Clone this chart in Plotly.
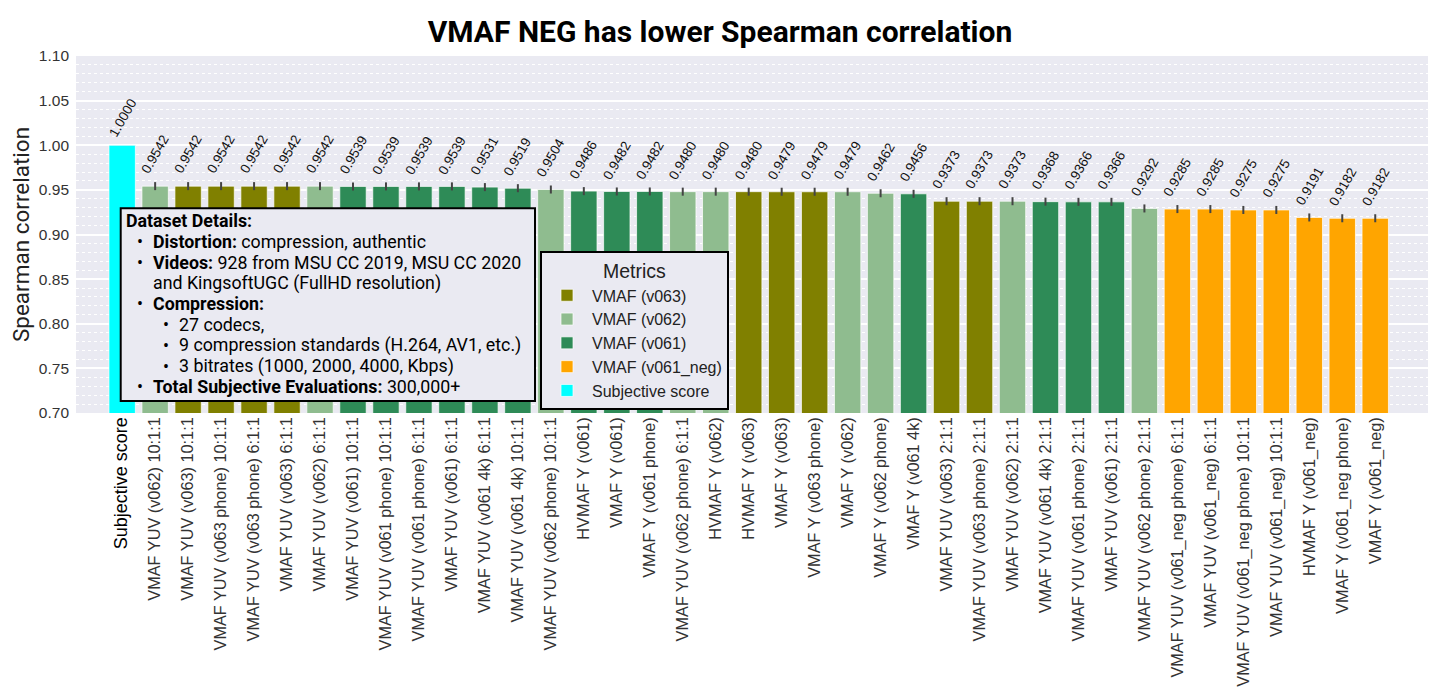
import plotly.graph_objects as go

categories = [
    "Subjective score",
    "VMAF YUV (v062) 10:1:1",
    "VMAF YUV (v063) 10:1:1",
    "VMAF YUV (v063 phone) 10:1:1",
    "VMAF YUV (v063 phone) 6:1:1",
    "VMAF YUV (v063) 6:1:1",
    "VMAF YUV (v062) 6:1:1",
    "VMAF YUV (v061) 10:1:1",
    "VMAF YUV (v061 phone) 10:1:1",
    "VMAF YUV (v061 phone) 6:1:1",
    "VMAF YUV (v061) 6:1:1",
    "VMAF YUV (v061 4k) 6:1:1",
    "VMAF YUV (v061 4k) 10:1:1",
    "VMAF YUV (v062 phone) 10:1:1",
    "HVMAF Y (v061)",
    "VMAF Y (v061)",
    "VMAF Y (v061 phone)",
    "VMAF YUV (v062 phone) 6:1:1",
    "HVMAF Y (v062)",
    "HVMAF Y (v063)",
    "VMAF Y (v063)",
    "VMAF Y (v063 phone)",
    "VMAF Y (v062)",
    "VMAF Y (v062 phone)",
    "VMAF Y (v061 4k)",
    "VMAF YUV (v063) 2:1:1",
    "VMAF YUV (v063 phone) 2:1:1",
    "VMAF YUV (v062) 2:1:1",
    "VMAF YUV (v061 4k) 2:1:1",
    "VMAF YUV (v061 phone) 2:1:1",
    "VMAF YUV (v061) 2:1:1",
    "VMAF YUV (v062 phone) 2:1:1",
    "VMAF YUV (v061_neg phone) 6:1:1",
    "VMAF YUV (v061_neg) 6:1:1",
    "VMAF YUV (v061_neg phone) 10:1:1",
    "VMAF YUV (v061_neg) 10:1:1",
    "HVMAF Y (v061_neg)",
    "VMAF Y (v061_neg phone)",
    "VMAF Y (v061_neg)",
]

values = [
    1.0000, 0.9542, 0.9542, 0.9542, 0.9542, 0.9542, 0.9542,
    0.9539, 0.9539, 0.9539, 0.9539, 0.9531, 0.9519, 0.9504,
    0.9486, 0.9482, 0.9482, 0.9480, 0.9480, 0.9480, 0.9479,
    0.9479, 0.9479, 0.9462, 0.9456, 0.9373, 0.9373, 0.9373,
    0.9368, 0.9366, 0.9366, 0.9292, 0.9285, 0.9285, 0.9275,
    0.9275, 0.9191, 0.9182, 0.9182,
]

groups = [
    "Subjective score",
    "VMAF (v062)", "VMAF (v063)", "VMAF (v063)", "VMAF (v063)", "VMAF (v063)", "VMAF (v062)",
    "VMAF (v061)", "VMAF (v061)", "VMAF (v061)", "VMAF (v061)", "VMAF (v061)", "VMAF (v061)",
    "VMAF (v062)",
    "VMAF (v061)", "VMAF (v061)", "VMAF (v061)",
    "VMAF (v062)", "VMAF (v062)", "VMAF (v063)", "VMAF (v063)", "VMAF (v063)",
    "VMAF (v062)", "VMAF (v062)", "VMAF (v061)",
    "VMAF (v063)", "VMAF (v063)", "VMAF (v062)",
    "VMAF (v061)", "VMAF (v061)", "VMAF (v061)",
    "VMAF (v062)",
    "VMAF (v061_neg)", "VMAF (v061_neg)", "VMAF (v061_neg)", "VMAF (v061_neg)",
    "VMAF (v061_neg)", "VMAF (v061_neg)", "VMAF (v061_neg)",
]

errors = [0.0] + [0.0045] * (len(values) - 1)

legend_order = ["VMAF (v063)", "VMAF (v062)", "VMAF (v061)", "VMAF (v061_neg)", "Subjective score"]
group_colors = {
    "VMAF (v063)": "#808000",
    "VMAF (v062)": "#8FBC8F",
    "VMAF (v061)": "#2E8B57",
    "VMAF (v061_neg)": "#FFA500",
    "Subjective score": "#00FFFF",
}

# Dataset details box: (indent level, bold head, rest)
detail_lines = [
    (0, "Dataset Details:", ""),
    (1, "Distortion:", " compression, authentic"),
    (1, "Videos:", " 928 from MSU CC 2019, MSU CC 2020"),
    (-1, "", "and KingsoftUGC (FullHD resolution)"),
    (1, "Compression:", ""),
    (2, "", "27 codecs,"),
    (2, "", "9 compression standards (H.264, AV1, etc.)"),
    (2, "", "3 bitrates (1000, 2000, 4000, Kbps)"),
    (1, "Total Subjective Evaluations:", " 300,000+"),
]

BG = "#EAEAF2"
FIG_W, FIG_H = 1432, 689
PLOT_L, PLOT_R, PLOT_T, PLOT_B = 76, 1428, 56, 413   # page pixels
OFF = 8  # page body margin


def px_x(px):
    return (px - PLOT_L) / (PLOT_R - PLOT_L)


def px_y(py):
    return (PLOT_B - py) / (PLOT_B - PLOT_T)


fig = go.Figure()

for g in legend_order:
    idx = [i for i, gg in enumerate(groups) if gg == g]
    fig.add_trace(go.Bar(
        x=[categories[i] for i in idx],
        y=[values[i] for i in idx],
        name=g,
        marker=dict(color=group_colors[g], line=dict(color="rgba(255,255,255,0.7)", width=1)),
        error_y=dict(type="data", array=[errors[i] for i in idx], visible=True,
                     color="#444444", thickness=2, width=0),
        showlegend=True,
    ))

annotations = []
for c, v, e in zip(categories, values, errors):
    annotations.append(dict(
        x=c, y=v + e, xref="x", yref="y",
        text=f"{v:.4f}", textangle=-60, showarrow=False,
        xanchor="center", yanchor="bottom", yshift=3,
        font=dict(family="Arial, Liberation Sans", size=13.5, color="#111111"),
    ))

# details box lines
line_y0, line_dy = 220.5, 20.8
x_head, x_b1, x_t1, x_b2, x_t2 = 124, 135, 151, 161, 177
dfont = dict(family="Roboto", size=17.8, color="black")
for k, (lvl, head, rest) in enumerate(detail_lines):
    py = line_y0 + k * line_dy
    if lvl == 0:
        tx, bx = x_head, None
    elif lvl == 1:
        tx, bx = x_t1, x_b1
    elif lvl == 2:
        tx, bx = x_t2, x_b2
    else:
        tx, bx = x_t1, None
    if bx is not None:
        annotations.append(dict(x=px_x(bx), y=px_y(py), xref="paper", yref="paper",
                                xanchor="left", yanchor="middle", showarrow=False,
                                text="•", font=dfont))
    txt = (f"<b>{head}</b>" if head else "") + rest
    annotations.append(dict(x=px_x(tx), y=px_y(py), xref="paper", yref="paper",
                            xanchor="left", yanchor="middle", showarrow=False,
                            text=txt, font=dfont, align="left"))

shapes = [dict(
    type="rect", xref="paper", yref="paper",
    x0=px_x(120.7), x1=px_x(535), y0=px_y(401), y1=px_y(208.3),
    fillcolor=BG, line=dict(color="black", width=2), layer="above",
)]

ticktext = ["<span style='font-size:18px;color:black'>Subjective score</span>"] + categories[1:]

fig.update_layout(
    width=FIG_W, height=FIG_H,
    barmode="overlay",
    paper_bgcolor="white", plot_bgcolor=BG,
    margin=dict(l=PLOT_L - OFF, r=FIG_W + OFF - PLOT_R, t=PLOT_T - OFF, b=FIG_H + OFF - PLOT_B,
                autoexpand=False),
    title=dict(text="<b>VMAF NEG has lower Spearman correlation</b>",
               x=(720 - OFF) / FIG_W, xanchor="center", y=1 - (31 - OFF) / FIG_H, yanchor="middle",
               font=dict(family="Roboto", size=30, color="black")),
    annotations=annotations,
    shapes=shapes,
    legend=dict(
        title=dict(text="Metrics", side="top center",
                   font=dict(family="Arial, Liberation Sans", size=19.5, color="#222")),
        x=px_x(540), y=px_y(251), xanchor="left", yanchor="top",
        bgcolor=BG, bordercolor="black", borderwidth=2,
        font=dict(family="Arial, Liberation Sans", size=16, color="#222"),
        itemwidth=40, traceorder="normal",
    ),
    xaxis=dict(
        categoryorder="array", categoryarray=categories,
        tickmode="array", tickvals=categories, ticktext=ticktext,
        tickangle=-90, range=[-1.4, 39.6],
        tickfont=dict(family="Arial, Liberation Sans", size=16.3, color="#333"),
        showgrid=False, zeroline=False, showline=False, ticks="",
    ),
    yaxis=dict(
        range=[0.70, 1.10], dtick=0.05, tickformat=".2f",
        tickfont=dict(family="Arial, Liberation Sans", size=15.5, color="#333"),
        gridcolor="white", gridwidth=1.5, zeroline=False, showline=False, ticks="",
        ticklabelstandoff=6,
        minor=dict(dtick=0.01, showgrid=True, gridcolor="white", gridwidth=0.8, griddash="dot"),
        title=dict(text="Spearman correlation", standoff=3,
                   font=dict(family="Roboto", size=22.5, color="#222")),
    ),
)

fig.write_html("out.html")
